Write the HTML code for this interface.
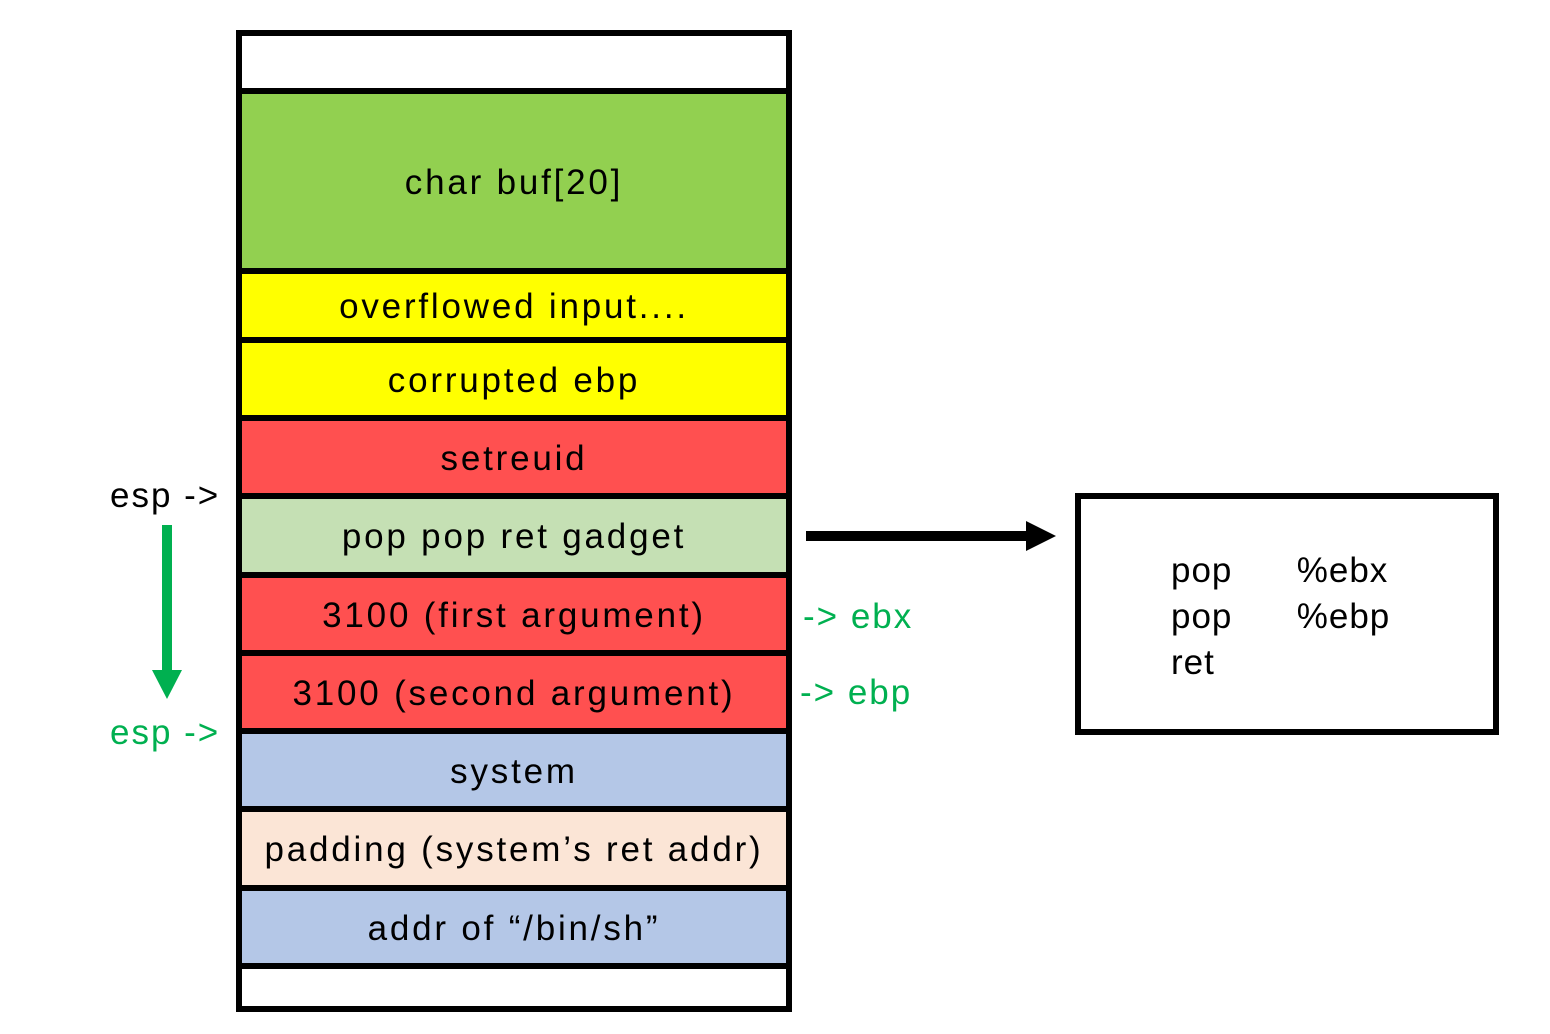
<!DOCTYPE html>
<html><head><meta charset="utf-8"><style>
body{margin:0;width:1550px;height:1034px;background:#fff;position:relative;overflow:hidden;font-family:"Liberation Sans","Noto Sans CJK KR",sans-serif;}
.r{position:absolute;left:236px;width:556px;box-sizing:border-box;border:6px solid #000;display:flex;align-items:center;justify-content:center;font-size:35px;color:#000;letter-spacing:2.8px;padding-top:3px;}
.t{position:absolute;font-size:35px;white-space:pre;letter-spacing:2px;}
</style></head><body>
<div class="r" style="top:30px;height:64px;background:#fff"></div>
<div class="r" style="top:88px;height:186px;background:#92d050">char buf[20]</div>
<div class="r" style="top:268px;height:75px;background:#ffff00">overflowed input....</div>
<div class="r" style="top:337px;height:84px;background:#ffff00">corrupted ebp</div>
<div class="r" style="top:415px;height:84px;background:#ff5050">setreuid</div>
<div class="r" style="top:493px;height:85px;background:#c5e0b4">pop pop ret gadget</div>
<div class="r" style="top:572px;height:84px;background:#ff5050">3100 (first argument)</div>
<div class="r" style="top:650px;height:84px;background:#ff5050">3100 (second argument)</div>
<div class="r" style="top:728px;height:84px;background:#b4c7e7">system</div>
<div class="r" style="top:806px;height:85px;background:#fbe5d6">padding (system’s ret addr)</div>
<div class="r" style="top:885px;height:84px;background:#b4c7e7">addr of “/bin/sh”</div>
<div class="r" style="top:963px;height:49px;background:#fff"></div>

<div class="t" style="left:110px;top:476px;color:#000">esp -&gt;</div>
<div class="t" style="left:110px;top:713px;color:#00b050">esp -&gt;</div>
<div class="t" style="left:803px;top:597px;color:#00b050">-&gt; ebx</div>
<div class="t" style="left:800px;top:673px;color:#00b050">-&gt; ebp</div>

<svg width="1550" height="1034" style="position:absolute;left:0;top:0">
<rect x="162" y="525" width="10" height="146" fill="#00b050"/>
<polygon points="152,670 182,670 167,699" fill="#00b050"/>
<rect x="806" y="531" width="222" height="10" fill="#000"/>
<polygon points="1026,521 1026,551 1056,536" fill="#000"/>
<rect x="1078" y="496" width="418" height="236" fill="none" stroke="#000" stroke-width="6"/>
</svg>
<div class="t" style="left:1171px;top:548px;line-height:46px;letter-spacing:1px">pop      %ebx
pop      %ebp
ret</div>
</body></html>
